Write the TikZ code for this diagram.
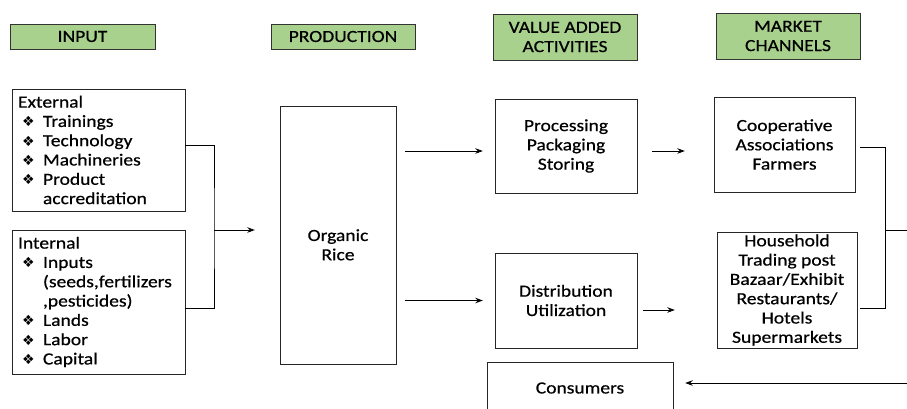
\documentclass[tikz,border=0pt]{standalone}
\usepackage{fontspec}
\setmainfont{Carlito}[FakeStretch=1.15,FakeBold=0.6]
\newfontfamily\symfont{DejaVu Sans}
\usetikzlibrary{arrows.meta}
\definecolor{headgreen}{HTML}{A9D18E}
\newcommand{\bul}{\hspace*{4pt}\makebox[21pt][l]{\symfont\fontsize{14}{14}\selectfont ❖}}
\newcommand{\cont}{\hspace*{25pt}}
\begin{document}
\begin{tikzpicture}[x=1pt,y=-1pt,
    font=\fontsize{17}{19.3}\selectfont,
    head/.style={draw=black!80,fill=headgreen,align=center,inner sep=0pt},
    box/.style={draw=black!85,align=center,inner sep=0pt},
    list/.style={draw=black!85,align=left,inner sep=6pt,text width=161pt},
    arr/.style={-{Stealth[length=7.5pt,width=5.5pt]},line width=0.9pt},
    link/.style={line width=0.7pt}]
        \useasboundingbox (0,0) rectangle (907,408);

        % 标题
        \node[head,minimum width=145pt,minimum height=25pt] (in) at (82.5,36.5) {INPUT};
        \node[head,minimum width=144pt,minimum height=25pt] (prod) at (343,36.5) {PRODUCTION};
        \node[head,minimum width=144pt,minimum height=46pt] (va) at (565,37) {VALUE ADDED\\ACTIVITIES};
        \node[head,minimum width=144pt,minimum height=46pt] (mc) at (788,36) {MARKET\\CHANNELS};

        % 设置方框
        \node[list,minimum height=122pt] (ext) at (98.5,150) {External\\
            \bul Trainings\\ \bul Technology\\ \bul Machineries\\
            \bul Product\\ \cont accreditation};
        \node[list,minimum height=144pt] (int) at (98.5,302) {Internal\\
            \bul Inputs\\ \cont (seeds,fertilizers\\ \cont ,pesticides)\\
            \bul Lands\\ \bul Labor\\ \bul Capital};
        \node[box,minimum width=116pt,minimum height=258pt] (rice) at (338,235) {\mbox{}\\[12pt]Organic\\Rice};
        \node[box,minimum width=142pt,minimum height=94pt] (proc) at (566,146) {Processing\\Packaging\\Storing};
        \node[box,minimum width=142pt,minimum height=95pt] (dist) at (566,300.5) {Distribution\\Utilization};
        \node[box,minimum width=141pt,minimum height=95pt] (coop) at (784.5,144.5) {Cooperative\\Associations\\Farmers};
        \node[box,minimum width=140pt,minimum height=116pt] (house) at (787,290) {Household\\Trading post\\Bazaar/Exhibit\\Restaurants/\\Hotels\\Supermarkets};
        \node[box,minimum width=186pt,minimum height=52pt] (cons) at (580,388) {Consumers};

        \coordinate (inj) at (214,230);
        \coordinate (mkj) at (885,230);
        \coordinate (edge) at (907,230);
        \coordinate (back) at (907,383);

        % 画连线
        \draw[link] ([yshift=5pt]ext.east) -| (inj) |- ([yshift=-6pt]int.east);
        \draw[arr,shorten >=25pt] (inj) -- (inj -| rice.west);
        \draw[arr,shorten <=9pt,shorten >=12pt] ([yshift=-5pt]rice.east |- proc.west) -- ([yshift=-5pt]proc.west);
        \draw[arr,shorten <=9pt,shorten >=12pt] (rice.east |- dist.west) -- (dist.west);
        \draw[arr,shorten <=15pt,shorten >=29pt] ([yshift=-5pt]proc.east) -- ([yshift=-5pt]proc.east -| coop.west);
        \draw[arr,shorten <=6pt,shorten >=42pt] ([yshift=-9.5pt]dist.east) -- ([yshift=-9.5pt]dist.east -| house.west);
        \draw[link,shorten <=5pt] ([yshift=-2.5pt]coop.east) -| (mkj);
        \draw[link,shorten <=3pt] ([yshift=-18pt]house.east) -| (mkj);
        \draw[link] (mkj) -- (edge);
        \draw[arr,shorten >=12pt] (back) -- (back -| cons.east);
\end{tikzpicture}
\end{document}
